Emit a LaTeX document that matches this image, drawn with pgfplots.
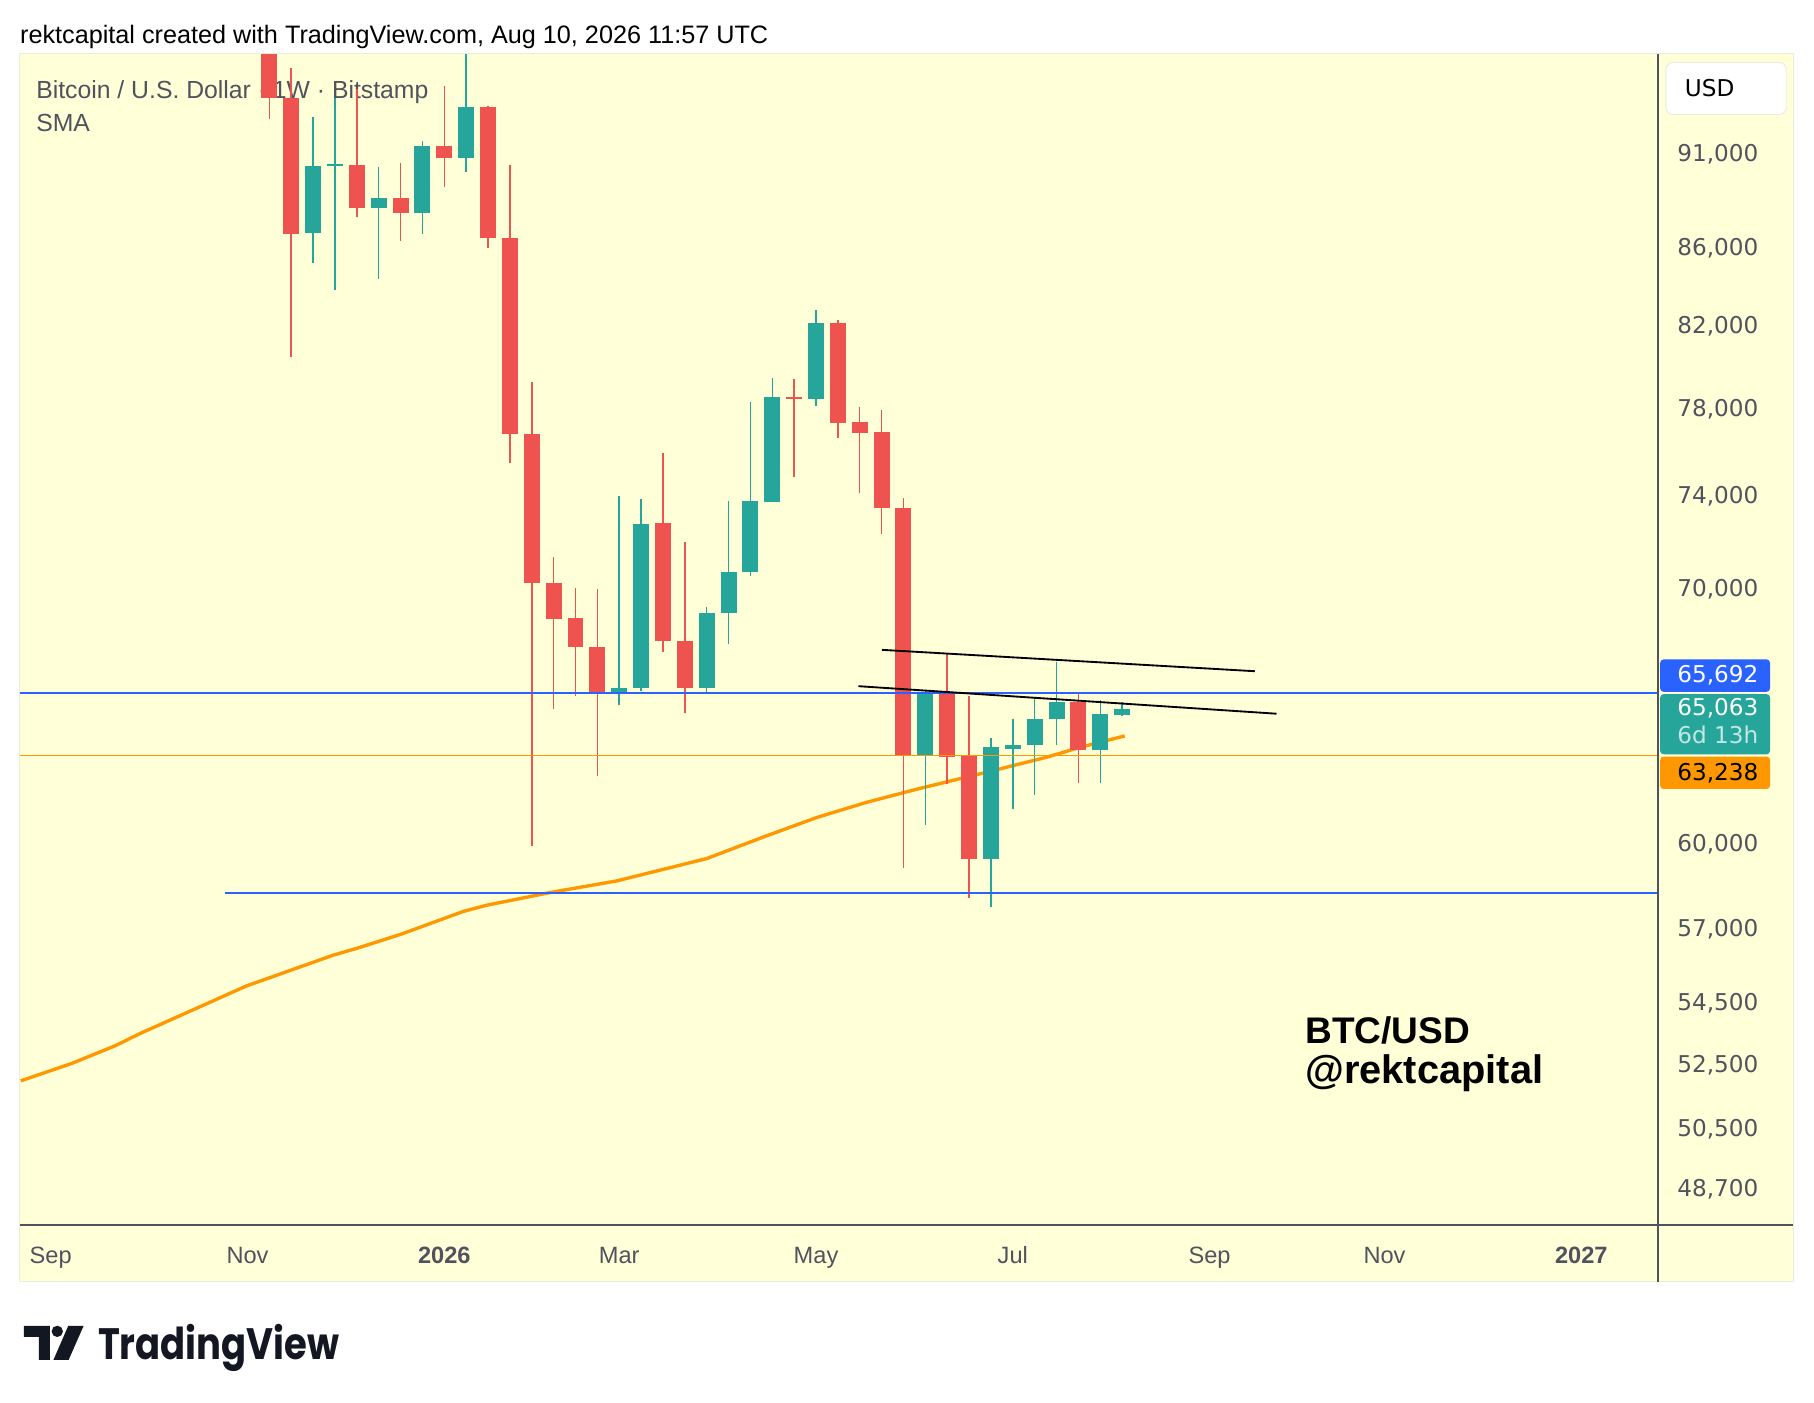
\documentclass[border=0pt]{standalone}
\usepackage{fontspec}
\setmainfont{Liberation Sans}
\newfontfamily\poppins{Poppins}
\newfontfamily\dejavu{DejaVu Sans}
\usepackage{graphicx}
\usepackage{pgfplots}
\pgfplotsset{compat=1.18}
\definecolor{bgy}{HTML}{FFFFD8}
\definecolor{tvred}{HTML}{EF5350}
\definecolor{tvgreen}{HTML}{26A69A}
\definecolor{tvblue}{HTML}{2962FF}
\definecolor{tvorange}{HTML}{FF9800}
\definecolor{tvgray}{HTML}{50535E}
\definecolor{tvdark}{HTML}{131722}
\definecolor{panelborder}{HTML}{ECECDC}
% candle: w, open, high, low, close, colour
\newcommand{\candle}[6]{%
  \addplot[#6, line width=0.65pt, forget plot] coordinates {(#1,#4) (#1,#3)};
  \addplot[#6, line width=6.9pt, forget plot] coordinates {(#1,#2) (#1,#5)};
}
\newcommand{\scalefont}{\dejavu\fontsize{10pt}{12pt}\selectfont}
\begin{document}
\begin{tikzpicture}
\path[use as bounding box, fill=white] (0,0) rectangle (784pt,606pt);
\begin{scope}[shift={(0pt,606pt)}, x=0.5pt, y=-0.5pt]
  \fill[bgy] (17,46.5) rectangle (1550,1108);
  \draw[panelborder, line width=0.5pt] (17,46.5) rectangle (1550,1108);
  \node[anchor=base west, inner sep=0pt, font=\fontsize{10.9pt}{13pt}\selectfont, text=black]
    at (17,37.5) {rektcapital created with TradingView.com, Aug 10, 2026 11:57 UTC};
  \node[anchor=base west, inner sep=0pt, font=\fontsize{10.7pt}{13pt}\selectfont, text=tvgray]
    at (31,85) {Bitcoin / U.S. Dollar · 1W · Bitstamp};
  \node[anchor=base west, inner sep=0pt, font=\fontsize{10.7pt}{13pt}\selectfont, text=tvgray]
    at (31,113.8) {SMA};
  \node[anchor=base west, inner sep=0pt, font=\fontsize{16pt}{18pt}\selectfont\bfseries, text=black]
    at (1128,901.8) {BTC/USD};
  \node[anchor=base west, inner sep=0pt, font=\fontsize{17.2pt}{19pt}\selectfont\bfseries, text=black]
    at (1128,936.3) {@rektcapital};
\end{scope}
\begin{axis}[
  at={(8.5pt,76.5pt)}, anchor=south west,
  scale only axis, width=708pt, height=506pt,
  xmin=-19.42, xmax=55.5,
  ymode=log, ymin=47630, ymax=96600,
  axis line style={draw=none},
  major tick length=0pt, tick style={draw=none},
  xtick={-18,-9,0,8,17,26,35,43,52},
  xticklabels={Sep,Nov,\textbf{2026},Mar,May,Jul,Sep,Nov,\textbf{2027}},
  xticklabel style={anchor=base, inner sep=0pt, yshift=-16.6pt,
    font=\fontsize{10.2pt}{12pt}\selectfont, text=tvgray},
  ytick={48700,50500,52500,54500,57000,60000,70000,74000,78000,82000,86000,91000},
  yticklabels={{48,700},{50,500},{52,500},{54,500},{57,000},{60,000},{70,000},{74,000},{78,000},{82,000},{86,000},{91,000}},
  yticklabel pos=right,
  yticklabel style={anchor=base west, inner sep=0pt, xshift=8.25pt, yshift=-3.65pt,
    font=\scalefont, text=tvgray},
]
% SMA (orange)
\addplot[tvorange, line width=1.45pt, line join=round] coordinates {
 (-19.37,51960) (-17.04,52510) (-15.06,53070) (-13.91,53470) (-9.04,55030)
 (-5.08,56060) (-4.01,56290) (-2.03,56760) (0.87,57560) (1.94,57780)
 (3.46,58010) (4.83,58220) (7.88,58630) (12.0,59430) (14.74,60250)
 (17.03,60920) (19.31,61480) (21.6,61970) (24.65,62580) (27.55,63180)
 (29.07,63560) (31.12,64000)};
% weekly candles: week, open, high, low, close
\candle{-8}{98500}{100000}{92880}{94070}{tvred}
\candle{-7}{94070}{95820}{80460}{86660}{tvred}
\candle{-6}{86707}{92975}{85150}{90268}{tvgreen}
\candle{-5}{90300}{94070}{83750}{90380}{tvgreen}
\candle{-4}{90340}{94580}{87550}{88020}{tvred}
\candle{-3}{88020}{90212}{84340}{88540}{tvgreen}
\candle{-2}{88540}{90430}{86290}{87740}{tvred}
\candle{-1}{87740}{91640}{86660}{91400}{tvgreen}
\candle{0}{91400}{94730}{89150}{90720}{tvred}
\candle{1}{90720}{97500}{89960}{93540}{tvgreen}
\candle{2}{93540}{93600}{85920}{86450}{tvred}
\candle{3}{86450}{90360}{75480}{76780}{tvred}
\candle{4}{76780}{79250}{59900}{70170}{tvred}
\candle{5}{70190}{71310}{65030}{68700}{tvred}
\candle{6}{68710}{69990}{65540}{67510}{tvred}
\candle{7}{67530}{69950}{62480}{65640}{tvred}
\candle{8}{65640}{73980}{65190}{65890}{tvgreen}
\candle{9}{65870}{73850}{65760}{72740}{tvgreen}
\candle{10}{72800}{75920}{67310}{67760}{tvred}
\candle{11}{67780}{71960}{64880}{65870}{tvred}
\candle{12}{65870}{69190}{65640}{68940}{tvgreen}
\candle{13}{68920}{73750}{67670}{70670}{tvgreen}
\candle{14}{70650}{78290}{70490}{73750}{tvgreen}
\candle{15}{73720}{79440}{73690}{78560}{tvgreen}
\candle{16}{78560}{79400}{74830}{78450}{tvred}
\candle{17}{78450}{82750}{78110}{82110}{tvgreen}
\candle{18}{82110}{82260}{76620}{77320}{tvred}
\candle{19}{77340}{78060}{74110}{76860}{tvred}
\candle{20}{76880}{77910}{72320}{73450}{tvred}
\candle{21}{73470}{73880}{59100}{63250}{tvred}
\candle{22}{63250}{65800}{60650}{65730}{tvgreen}
\candle{23}{65730}{67250}{62180}{63200}{tvred}
\candle{24}{63240}{65560}{58030}{59420}{tvred}
\candle{25}{59420}{63920}{57720}{63570}{tvgreen}
\candle{26}{63490}{64660}{61230}{63660}{tvgreen}
\candle{27}{63660}{65520}{61760}{64660}{tvgreen}
\candle{28}{64660}{66930}{63640}{65320}{tvgreen}
\candle{29}{65320}{65690}{62210}{63470}{tvred}
\candle{30}{63470}{65400}{62210}{64850}{tvgreen}
\candle{31}{64820}{65310}{64790}{65063}{tvgreen}
% horizontal levels
\addplot[tvblue, line width=0.7pt] coordinates {(-19.42,65692) (55.5,65692)};
\addplot[tvblue, line width=0.7pt] coordinates {(-10.05,58200) (55.5,58200)};
\addplot[tvorange, line width=0.7pt] coordinates {(-19.42,63238) (55.5,63238)};
% trendlines
\addplot[black, line width=0.8pt] coordinates {(20.01,67410) (37.07,66550)};
\addplot[black, line width=0.8pt] coordinates {(18.94,65950) (38.06,64860)};
\end{axis}
\begin{scope}[shift={(0pt,606pt)}, x=0.5pt, y=-0.5pt]
  \draw[tvgray, line width=0.6pt] (1433,46.5) -- (1433,1108);
  \draw[tvgray, line width=0.6pt] (17,1059) -- (1550,1059);
  % USD box
  \filldraw[fill=white, draw=panelborder, line width=0.4pt, rounded corners=3pt] (1440,54) rectangle (1544,99);
  \node[anchor=base west, inner sep=0pt, font=\scalefont, text=black] at (1456,83.5) {USD};
  % price labels
  \fill[tvblue, rounded corners=1.5pt] (1435,570) rectangle (1530,598);
  \node[anchor=base west, inner sep=0pt, font=\scalefont, text=white] at (1449.5,590) {65,692};
  \fill[tvgreen, rounded corners=1.5pt] (1435,600) rectangle (1530,652);
  \node[anchor=base west, inner sep=0pt, font=\scalefont, text=white] at (1449.5,618.5) {65,063};
  \node[anchor=base west, inner sep=0pt, font=\scalefont, text=white!72!tvgreen] at (1449.5,643) {6d 13h};
  \fill[tvorange, rounded corners=1.5pt] (1435,654) rectangle (1530,682);
  \node[anchor=base west, inner sep=0pt, font=\scalefont, text=black] at (1449.5,674.5) {63,238};
  % TradingView logo
  \fill[tvdark] (20.7,1146) -- (43.2,1146) -- (43.2,1175.5) -- (33.7,1175.5) -- (33.7,1155.6) -- (20.7,1155.6) -- cycle;
  \fill[tvdark] (49.5,1150.8) circle[radius=4.9];
  \fill[tvdark] (59,1146) -- (72.3,1146) -- (59.3,1175.5) -- (46.2,1175.5) -- cycle;
  \node[anchor=base west, inner sep=0pt, text=tvdark] at (84.4,1175)
    {\scalebox{0.84}[1]{\poppins\fontsize{19pt}{22pt}\selectfont\bfseries TradingView}};
\end{scope}
\end{tikzpicture}
\end{document}
